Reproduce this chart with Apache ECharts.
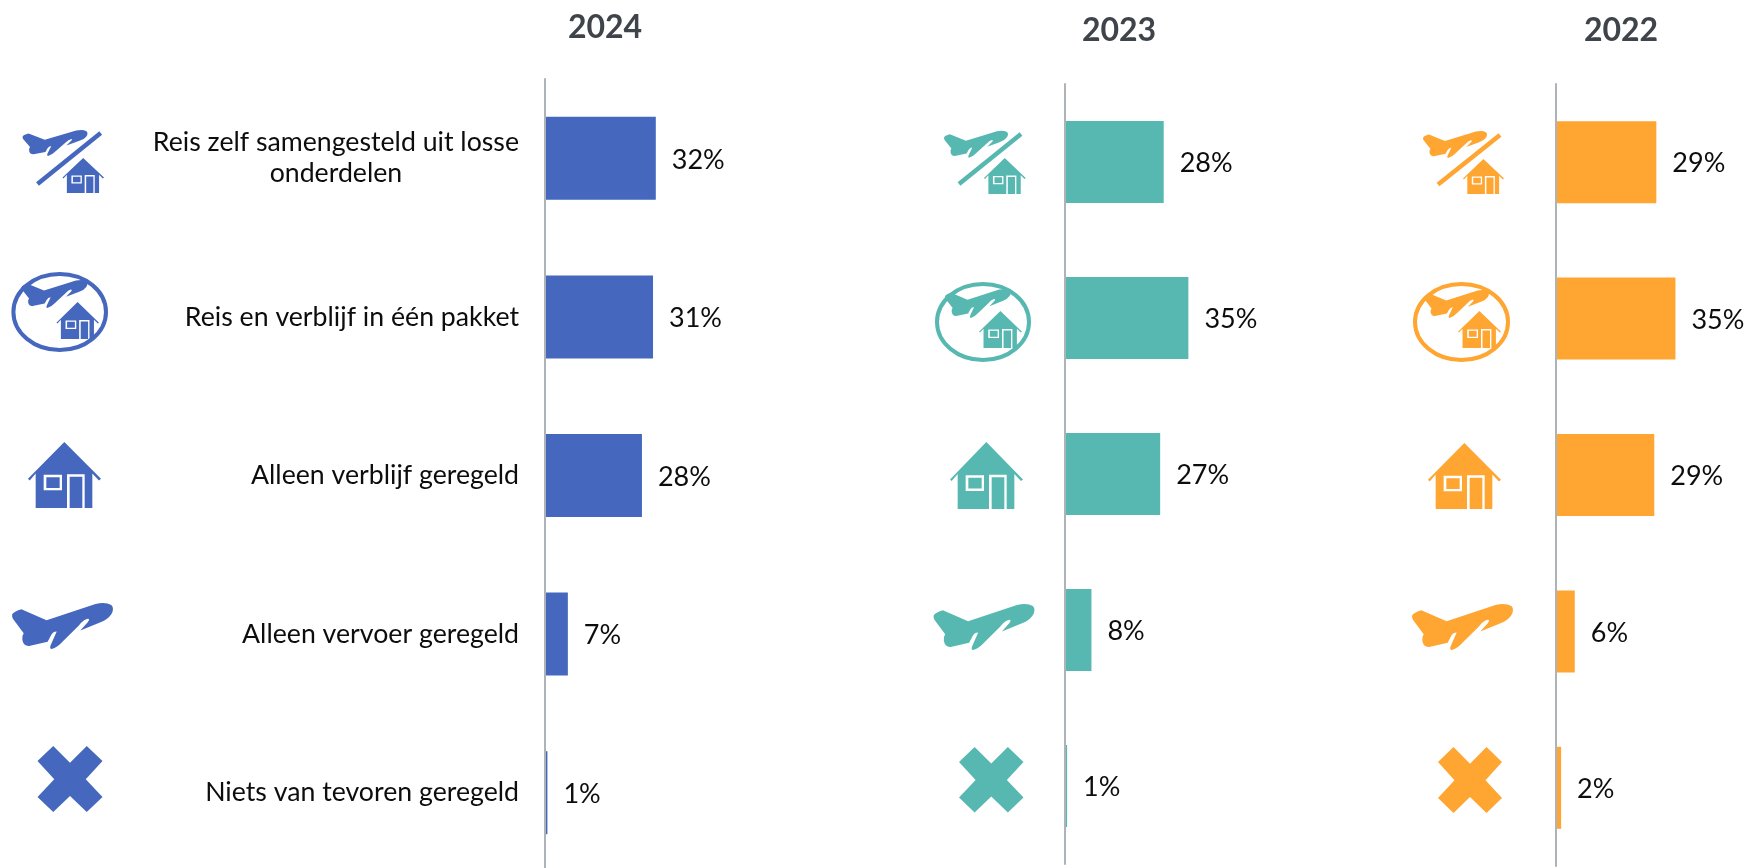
<!DOCTYPE html>
<html><head><meta charset="utf-8">
<style>html,body{margin:0;padding:0;background:#fff}#c{width:1747px;height:868px}</style>
<script src="https://cdn.jsdelivr.net/npm/echarts@6/dist/echarts.min.js"></script>
</head><body><div id="c"></div>
<script>
const categories = ['Reis zelf samengesteld uit losse\nonderdelen','Reis en verblijf in één pakket','Alleen verblijf geregeld','Alleen vervoer geregeld','Niets van tevoren geregeld'];
const years = ['2024','2023','2022'];
const values2024 = [32,31.2,28,6.6,0.7];
const values2023 = [28,35,27,7.5,0.6];
const values2022 = [29.4,35,28.8,5.5,1.5];

const FONT = 'Lato, Carlito, sans-serif';
const TEXT = '#0d0d0d';
const AXIS = '#aeb3b8';
const panels = [
  {values:values2024,color:'#4568BE',left:545,top:79,height:793,width:138.5,bar:83,title:[605,28],
   ic:{p1:[22.5,130,65,26],l:[37.5,184,100.7,133],h1:[62.5,158,41.5,35],e:[11.4,272,96.6,80],p2:[21.4,280,66,28],h2:[56.4,302,42.6,37],h3:[28,442,73,66],p3:[12,603,101,46],x:[37.5,746,65,66]}},
  {values:values2023,color:'#57B8B2',left:1065,top:84,height:780,width:141,bar:82,title:[1119,31],
   ic:{p1:[944,130.7,64,27],l:[959,184,1021,134],h1:[984,158,41.7,36],e:[935,282,96,80],p2:[945,289,65.7,29],h2:[979,311,43,37],h3:[950,442,73,67],p3:[933.5,604,101,46],x:[959,747,64.5,65.5]}},
  {values:values2022,color:'#FFA531',left:1556,top:84,height:782,width:136.5,bar:82,title:[1621,31],
   ic:{p1:[1423,131,64,27],l:[1438,184.5,1500,135],h1:[1463,159,41,35],e:[1413,282,97,80],p2:[1424,290,65,28],h2:[1458,311,43,37],h3:[1428,443,73,66],p3:[1412,604,101,46],x:[1438,747,64,66]}}
];

const PLANE = 'M38 75 Q40 68 65 60 L140 92 L285 45 Q315 38 332 48 Q342 58 332 75 Q322 90 300 98 L240 122 L262 98 Q270 88 262 88 Q250 90 235 108 L190 152 Q172 172 155 176 Q148 175 152 165 L170 125 Q158 125 152 138 L143 155 L88 167 Q72 168 68 150 Q66 138 72 130 L40 88 Q36 80 38 75 Z';
const HOUSE = 'M134 20 L244 130 L238 135 L218 114 L218 217 L48 217 L48 114 L30 135 L25 130 Z M142 116 L142 217 L150 217 L150 124 L188 124 L188 217 L195 217 L195 116 Z M72 118 L72 164 L127 164 L127 118 Z M80 125 L120 125 L120 157 L80 157 Z';
const CROSS = 'M47 0 L97 50 L147 0 L194 45 L144 100 L194 153 L147 198 L97 150 L47 198 L0 153 L50 100 L0 45 Z';

function icon(d,b,color){return {type:'path',shape:{pathData:d,layout:'cover',x:b[0],y:b[1],width:b[2],height:b[3]},style:{fill:color}};}
function iconsOf(p){
  const c=p.color,i=p.ic,sw=4,e=i.e;
  return [
    icon(PLANE,i.p1,c),
    {type:'line',shape:{x1:i.l[0],y1:i.l[1],x2:i.l[2],y2:i.l[3]},style:{stroke:c,lineWidth:4.5,fill:null}},
    icon(HOUSE,i.h1,c),
    {type:'ellipse',shape:{cx:e[0]+e[2]/2,cy:e[1]+e[3]/2,rx:e[2]/2-sw/2,ry:e[3]/2-sw/2},style:{stroke:c,lineWidth:sw,fill:'none'}},
    icon(PLANE,i.p2,c),
    icon(HOUSE,i.h2,c),
    icon(HOUSE,i.h3,c),
    icon(PLANE,i.p3,c),
    icon(CROSS,i.x,c)
  ];
}

const option = {
  animation:false,
  backgroundColor:'#fff',
  textStyle:{fontFamily:FONT},
  title:panels.map((p,k)=>({text:years[k],left:p.title[0],top:p.title[1],textAlign:'center',textVerticalAlign:'middle',padding:0,
    textStyle:{fontFamily:FONT,fontWeight:'bold',fontSize:32,color:'#3f444b'}})),
  grid:panels.map(p=>({left:p.left,top:p.top,width:p.width,height:p.height,containLabel:false,outerBoundsMode:'none'})),
  xAxis:panels.map((p,k)=>({type:'value',gridIndex:k,min:0,max:40,show:false})),
  yAxis:panels.map((p,k)=>({type:'category',gridIndex:k,inverse:true,data:categories,z:5,
    axisLine:{show:true,lineStyle:{color:AXIS,width:2}},axisTick:{show:false},splitLine:{show:false},
    axisLabel:{show:k===0,margin:26,interval:0,fontFamily:FONT,fontSize:26.7,color:TEXT,align:'right',
      formatter:v=>v.split('\n').map(s=>'{c|'+s+'}').join('\n'),
      rich:{c:{fontFamily:FONT,fontSize:26.7,color:TEXT,lineHeight:31,align:'center'}}}})),
  series:panels.map((p,k)=>({type:'bar',xAxisIndex:k,yAxisIndex:k,data:p.values,barWidth:p.bar,
    itemStyle:{color:p.color},
    label:{show:true,position:'right',distance:16,offset:[0,1.5],formatter:d=>Math.round(d.value)+'%',fontFamily:FONT,fontSize:27,color:TEXT}})).concat([
    {type:'custom',coordinateSystem:'none',silent:true,data:[0],
     renderItem:()=>({type:'group',children:panels.flatMap(iconsOf)})}
  ])
};
const chart = echarts.init(document.getElementById('c'),null,{renderer:'canvas'});
chart.setOption(option);
</script></body></html>
